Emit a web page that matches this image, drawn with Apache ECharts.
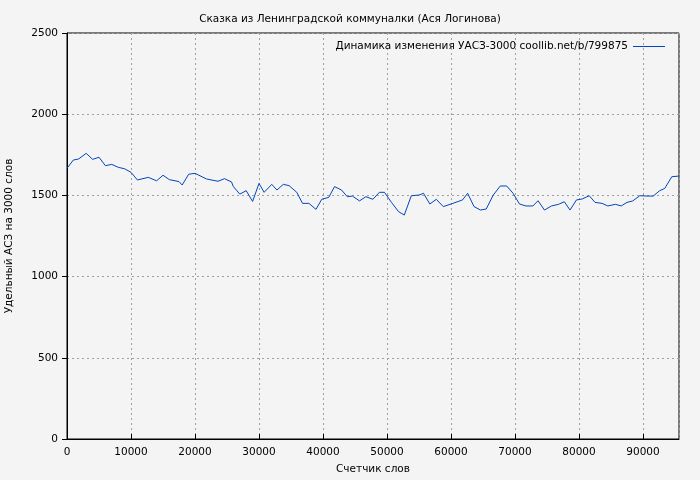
<!DOCTYPE html>
<html><head><meta charset="utf-8">
<script src="https://cdn.jsdelivr.net/npm/echarts@6/dist/echarts.min.js"></script>
<style>html,body{margin:0;padding:0;background:#f4f4f4}#c{width:700px;height:480px}</style>
</head><body><div id="c"></div>
<script>
const xs=[0,1000,1800,3000,4000,5000,6000,7000,8000,9000,10000,11000,12700,14000,15000,16000,17500,18000,19000,20000,21800,23600,24600,25700,26000,27000,28000,29000,30000,30800,32000,32800,33800,34700,35900,36800,37800,38900,39800,40900,41800,42900,43800,44600,45700,46700,47800,48800,49600,50700,51800,52700,53800,55000,55700,56700,57700,58800,60300,61800,62600,63600,64600,65500,66600,67700,68700,69700,70700,71700,72800,73600,74600,75700,76800,77700,78600,79600,80500,81600,82500,83600,84500,85700,86600,87500,88400,89500,90600,91600,92600,93400,94500,95600];
const ys=[1667,1718,1724,1759,1722,1735,1683,1691,1673,1664,1642,1595,1611,1590,1624,1597,1585,1564,1630,1636,1601,1587,1603,1583,1554,1508,1529,1463,1574,1519,1568,1533,1568,1560,1519,1451,1451,1414,1476,1488,1554,1533,1492,1496,1466,1492,1476,1519,1519,1457,1400,1379,1498,1502,1513,1447,1476,1431,1451,1472,1513,1431,1410,1416,1502,1558,1558,1513,1447,1435,1435,1467,1410,1435,1445,1461,1410,1472,1478,1498,1457,1451,1435,1445,1435,1457,1466,1498,1496,1496,1529,1543,1615,1619];
const title='Сказка из Ленинградской коммуналки (Ася Логинова)';
const seriesName='Динамика изменения УАСЗ-3000 coollib.net/b/799875';
const font='DejaVu Sans';
const ch=echarts.init(document.getElementById('c'));
const split={show:true,lineStyle:{color:'#a0a0a0',type:[2,3],width:1}};
ch.setOption({
 backgroundColor:'#f4f4f4',animation:false,
 textStyle:{fontFamily:font},
 title:{text:title,left:'center',top:9,textStyle:{fontFamily:font,fontSize:10.5,fontWeight:'normal',color:'#000'}},
 legend:{top:36,right:30,itemWidth:32,itemHeight:1,icon:'rect',align:'right',itemGap:6,textStyle:{fontFamily:font,fontSize:10.5,color:'#000'},data:[seriesName]},
 grid:{left:67,right:21,top:33,bottom:41,outerBoundsMode:'none',containLabel:false,show:true,borderColor:'#000',borderWidth:1,backgroundColor:'transparent'},
 xAxis:{type:'value',min:0,max:95625,interval:10000,name:'Счетчик слов',nameLocation:'middle',nameGap:25,nameTextStyle:{fontSize:10.5,color:'#000'},
  axisLine:{lineStyle:{color:'#000'}},axisTick:{show:true,inside:true,lineStyle:{color:'#000'}},axisLabel:{fontSize:10.5,color:'#000',margin:8,showMaxLabel:false,formatter:v=>String(v)},splitLine:split},
 yAxis:{type:'value',min:0,max:2500,interval:500,name:'Удельный АСЗ на 3000 слов',nameLocation:'middle',nameGap:52,nameTextStyle:{fontSize:10.5,color:'#000'},
  axisLine:{lineStyle:{color:'#000'}},axisTick:{show:true,lineStyle:{color:'#000'},length:5},axisLabel:{fontSize:10.5,color:'#000',margin:9,formatter:v=>String(v)},splitLine:split},
 series:[{name:seriesName,type:'line',data:xs.map((x,i)=>[x,ys[i]]),showSymbol:false,lineStyle:{color:'#0047ba',width:1},itemStyle:{color:'#0047ba'}}]
});
</script></body></html>
